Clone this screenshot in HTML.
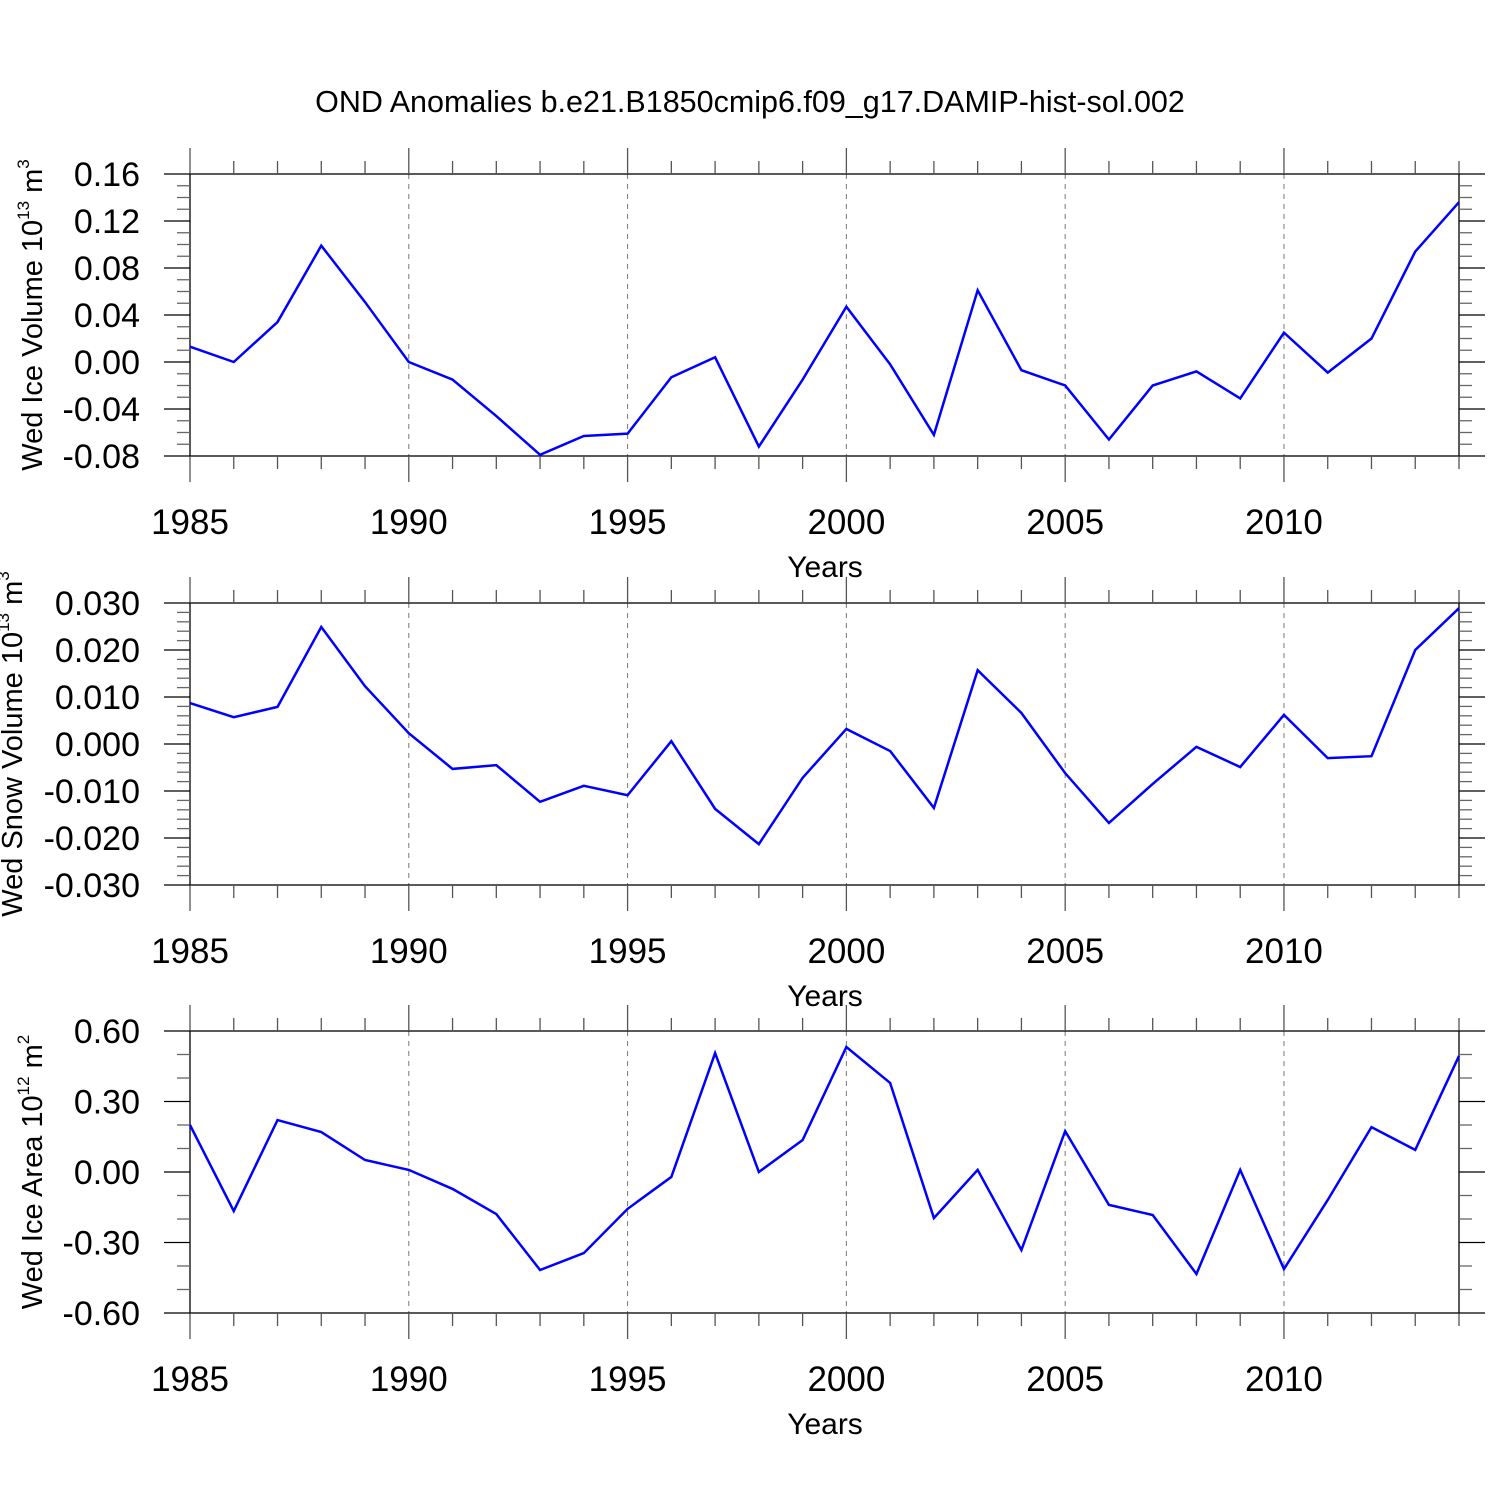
<!DOCTYPE html>
<html><head><meta charset="utf-8"><style>
html,body{margin:0;padding:0;background:#fff}
svg{display:block;font-family:"Liberation Sans",Arial,sans-serif}
</style></head><body>
<svg id="chart" width="1500" height="1500" viewBox="0 0 1500 1500" xmlns="http://www.w3.org/2000/svg">
<text x="750" y="112" font-size="30.5" text-anchor="middle">OND Anomalies b.e21.B1850cmip6.f09_g17.DAMIP-hist-sol.002</text>
</svg>
<script>
const years = [1985,1986,1987,1988,1989,1990,1991,1992,1993,1994,1995,1996,1997,1998,1999,2000,2001,2002,2003,2004,2005,2006,2007,2008,2009,2010,2011,2012,2013,2014];
const iceVolume = [0.013,0.0,0.034,0.099,0.051,0.0,-0.015,-0.046,-0.079,-0.063,-0.061,-0.013,0.004,-0.072,-0.015,0.047,-0.002,-0.062,0.061,-0.007,-0.020,-0.066,-0.020,-0.008,-0.031,0.025,-0.009,0.020,0.094,0.136];
const snowVolume = [0.0087,0.0057,0.0079,0.0249,0.0123,0.0023,-0.0053,-0.0045,-0.0123,-0.0089,-0.0109,0.0006,-0.0138,-0.0213,-0.0072,0.0032,-0.0015,-0.0136,0.0157,0.0066,-0.0062,-0.0168,-0.0085,-0.0006,-0.0049,0.0062,-0.0030,-0.0026,0.0200,0.0289];
const iceArea = [0.20,-0.166,0.221,0.170,0.051,0.009,-0.072,-0.179,-0.417,-0.345,-0.157,-0.021,0.506,0.0,0.136,0.532,0.379,-0.196,0.009,-0.332,0.174,-0.140,-0.183,-0.434,0.009,-0.413,-0.119,0.191,0.094,0.494];
const xTickLabels = ["1985","1990","1995","2000","2005","2010"];
const iceVolumeTicks = ["0.16","0.12","0.08","0.04","0.00","-0.04","-0.08"];
const snowVolumeTicks = ["0.030","0.020","0.010","0.000","-0.010","-0.020","-0.030"];
const iceAreaTicks = ["0.60","0.30","0.00","-0.30","-0.60"];

const NS="http://www.w3.org/2000/svg";
const svg=document.getElementById('chart');
const X0=190,X1=1459;
function xs(v){return X0+(v-1985)/(2014-1985)*(X1-X0);}
function mk(tag,attrs,parent){const e=document.createElementNS(NS,tag);for(const k in attrs)e.setAttribute(k,attrs[k]);(parent||svg).appendChild(e);return e;}

function panel(cfg){
  const g=mk('g',{});
  
  
  const T=cfg.top,B=cfg.bottom;
  const ys=v=>T+(cfg.max-v)/(cfg.max-cfg.min)*(B-T);
  for(const t of xTickLabels){const x=xs(+t);if(x>X0+1&&x<X1-1){const l=mk('line',{x1:x,x2:x,y1:T,y2:B,stroke:'#777','stroke-width':1,'stroke-dasharray':'5,5'},g);}}
  const fr=mk('rect',{x:X0,y:T,width:X1-X0,height:B-T,fill:'none',stroke:'#000','stroke-width':1.3},g);
  
  for(let y=1985;y<=2014;y++){const x=xs(y);const major=(y%5===0);const L=major?26:13;
    mk('line',{x1:x,x2:x,y1:B,y2:B+L,stroke:'#555','stroke-width':1.3},g);
    mk('line',{x1:x,x2:x,y1:T,y2:T-L,stroke:'#555','stroke-width':1.3},g);}
  for(const t of xTickLabels){const tx=mk('text',{x:xs(+t),y:B+78,'font-size':35,'text-anchor':'middle'},g);tx.textContent=t;}
  const xt=mk('text',{x:825,y:B+121,'font-size':30,'text-anchor':'middle'},g);xt.textContent='Years';
  
  const n=Math.round((cfg.max-cfg.min)/cfg.minor);
  for(let i=0;i<=n;i++){const v=cfg.min+i*cfg.minor;const y=ys(v);const major=(i%cfg.per===0);const L=major?26:13;
    mk('line',{x1:X0,x2:X0-L,y1:y,y2:y,stroke:major?'#000':'#666','stroke-width':1.3},g);
    mk('line',{x1:X1,x2:X1+L,y1:y,y2:y,stroke:major?'#000':'#666','stroke-width':1.3},g);}
  cfg.ticks.forEach((t,i)=>{const v=cfg.max-i*cfg.minor*cfg.per;const tx=mk('text',{x:140,y:ys(v)+12,'font-size':34,'text-anchor':'end'},g);tx.textContent=t;});
  const yt=mk('text',{transform:`translate(${cfg.tx},${cfg.ty})`+' rotate(-90)','font-size':29,'text-anchor':'middle'},g);
  
  yt.innerHTML=cfg.title+' 10<tspan dy="-13" font-size="17">'+cfg.exp+'</tspan><tspan dy="13"> m</tspan><tspan dy="-13" font-size="17">'+cfg.unitExp+'</tspan>';
  const pts=years.map((yr,i)=>xs(yr)+','+ys(cfg.data[i])).join(' ');
  const pl=mk('polyline',{points:pts,fill:'none',stroke:'#0000ff','stroke-width':2.5,'stroke-linejoin':'miter'},g);
  
}
panel({name:'ice-volume-panel',top:174,bottom:456,max:0.16,min:-0.08,minor:0.01,per:4,ticks:iceVolumeTicks,data:iceVolume,title:'Wed Ice Volume',exp:'13',unitExp:'3',tx:42,ty:315});
panel({name:'snow-volume-panel',top:603,bottom:885,max:0.03,min:-0.03,minor:0.002,per:5,ticks:snowVolumeTicks,data:snowVolume,title:'Wed Snow Volume',exp:'13',unitExp:'3',tx:22,ty:744});
panel({name:'ice-area-panel',top:1031,bottom:1313,max:0.6,min:-0.6,minor:0.1,per:3,ticks:iceAreaTicks,data:iceArea,title:'Wed Ice Area',exp:'12',unitExp:'2',tx:42,ty:1172});
</script>
</body></html>
